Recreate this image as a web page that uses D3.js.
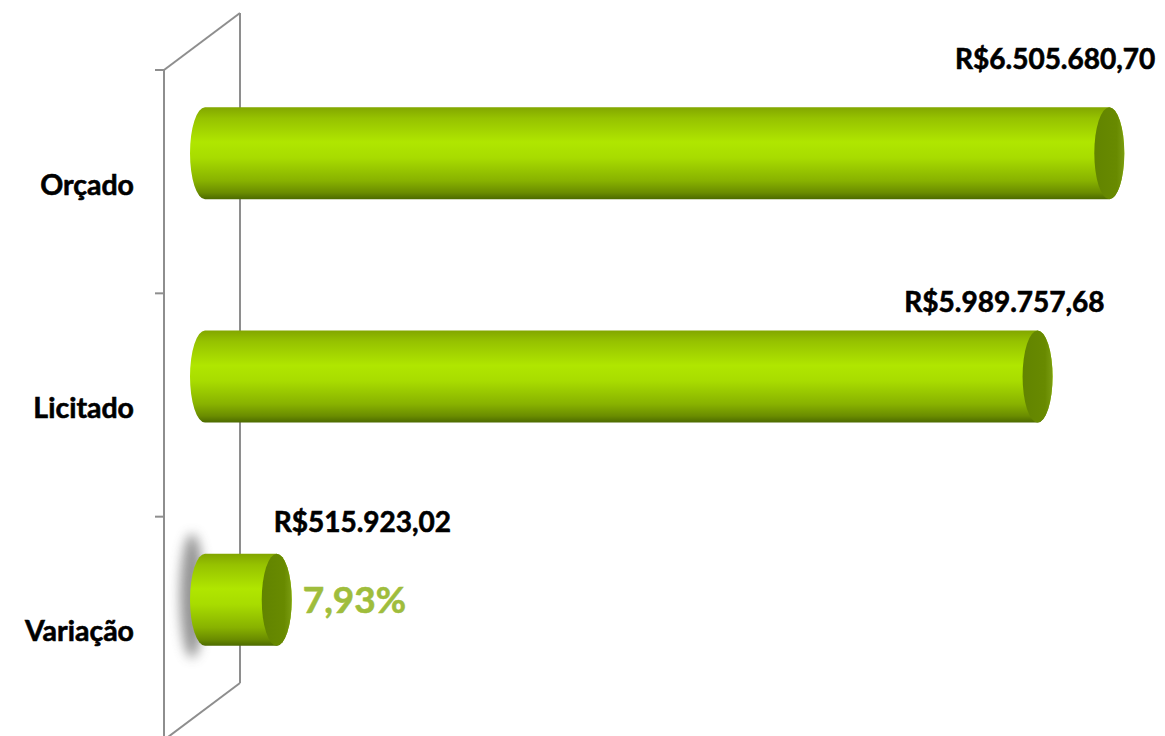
<!DOCTYPE html>
<html>
<head>
<meta charset="utf-8">
<script src="https://cdn.jsdelivr.net/npm/d3@7"></script>
<style>
  html, body { margin: 0; padding: 0; background: #ffffff; }
  svg { display: block; }
  text { font-family: Lato, "Open Sans", sans-serif; font-weight: 700; }
</style>
</head>
<body>
<svg id="chart" width="1165" height="736"></svg>
<script>
// ---- data ----
const categories = ["Orçado", "Licitado", "Variação"];
const values = [6505680.70, 5989757.68, 515923.02];
const valueLabels = ["R$6.505.680,70", "R$5.989.757,68", "R$515.923,02"];
const percentLabel = "7,93%";

// ---- layout ----
const W = 1165, H = 736;
const svg = d3.select("#chart");
const wallX = 164;                 // front edge of the category wall
const depthDX = 76, depthDY = -57; // 3D depth offset (front -> back)
const yTop = 70, yBottom = 740;

const y = d3.scaleBand().domain(categories).range([yTop, yBottom]).paddingInner(0).paddingOuter(0);
const x = d3.scaleLinear().domain([0, 7000000]).range([205, 205 + 973]);

const defs = svg.append("defs");
const grad = defs.append("linearGradient").attr("id", "body").attr("x1", 0).attr("y1", 0).attr("x2", 0).attr("y2", 1);
[[0, "#82a600"], [0.12, "#96c200"], [0.38, "#b0e600"], [0.55, "#a8dc00"], [0.8, "#88b200"], [0.93, "#6a8c00"], [1, "#4c6a00"]]
  .forEach(([o, c]) => grad.append("stop").attr("offset", o).attr("stop-color", c));
const capGrad = defs.append("linearGradient").attr("id", "cap").attr("x1", 0).attr("y1", 0).attr("x2", 1).attr("y2", 0);
[[0, "#628400"], [0.75, "#688a00"], [1, "#7a9c10"]]
  .forEach(([o, c]) => capGrad.append("stop").attr("offset", o).attr("stop-color", c));
const blur = defs.append("filter").attr("id", "blur").attr("x", "-150%").attr("y", "-50%").attr("width", "400%").attr("height", "200%");
blur.append("feGaussianBlur").attr("stdDeviation", 6);

// ---- wall ----
const wall = svg.append("g").attr("stroke", "#8e8e8e").attr("stroke-width", 2).attr("fill", "none");
wall.append("line").attr("x1", wallX).attr("y1", yTop).attr("x2", wallX).attr("y2", yBottom);
wall.append("line").attr("x1", wallX + depthDX).attr("y1", yTop + depthDY).attr("x2", wallX + depthDX).attr("y2", yBottom + depthDY);
wall.append("line").attr("x1", wallX).attr("y1", yTop).attr("x2", wallX + depthDX).attr("y2", yTop + depthDY);
wall.append("line").attr("x1", wallX).attr("y1", yBottom).attr("x2", wallX + depthDX).attr("y2", yBottom + depthDY);
const tickYs = categories.map(c => y(c)).concat([yBottom]);
wall.selectAll("line.tick").data(tickYs).enter().append("line").attr("class", "tick")
  .attr("x1", wallX - 9).attr("x2", wallX).attr("y1", d => d).attr("y2", d => d);

// ---- category labels ----
svg.append("g").selectAll("text").data(categories).enter().append("text")
  .attr("x", 134).attr("y", d => y(d) + y.bandwidth() / 2 + 13)
  .attr("text-anchor", "end").attr("font-size", 28.5).attr("fill", "#000")
  .attr("stroke", "#000").attr("stroke-width", 0.6)
  .text(d => d);

// ---- bars (cylinders) ----
const ry = 46, rx = 15;
const barCY = c => y(c) + y.bandwidth() / 2 + depthDY / 2;
const rows = categories.map((c, i) => ({ c, v: values[i], label: valueLabels[i], i }));

// shadow behind the small bar
const small = rows[2];
svg.append("ellipse").attr("cx", x(0) - 13).attr("cy", barCY(small.c) - 4)
  .attr("rx", 12).attr("ry", 62).attr("fill", "#7a7a7a").attr("opacity", 0.8).attr("filter", "url(#blur)");

const bars = svg.append("g").selectAll("g").data(rows).enter().append("g");
bars.append("path")
  .attr("d", d => {
    const x0 = x(0), x1 = x(d.v), cy = barCY(d.c);
    return `M${x0},${cy - ry} L${x1},${cy - ry} A${rx},${ry} 0 0 1 ${x1},${cy + ry} L${x0},${cy + ry} A${rx},${ry} 0 0 1 ${x0},${cy - ry} Z`;
  })
  .attr("fill", "url(#body)");
bars.append("ellipse")
  .attr("cx", d => x(d.v)).attr("cy", d => barCY(d.c)).attr("rx", rx).attr("ry", ry)
  .attr("fill", "url(#cap)");

// ---- value labels ----
const labelDX = [46, 67, -3];
const labelAnchor = ["end", "end", "start"];
const labelDY = [-38, -19, -22];
svg.append("g").selectAll("text").data(rows).enter().append("text")
  .attr("x", d => x(d.v) + labelDX[d.i])
  .attr("y", d => barCY(d.c) - ry + labelDY[d.i])
  .attr("text-anchor", d => labelAnchor[d.i])
  .attr("font-size", 28).attr("fill", "#000")
  .attr("stroke", "#000").attr("stroke-width", 0.6)
  .text(d => d.label);

svg.append("text")
  .attr("x", x(small.v) + 26).attr("y", barCY(small.c) + 13)
  .attr("font-size", 37).attr("fill", "#9fbd3c")
  .attr("stroke", "#9fbd3c").attr("stroke-width", 0.6)
  .text(percentLabel);
</script>
</body>
</html>
